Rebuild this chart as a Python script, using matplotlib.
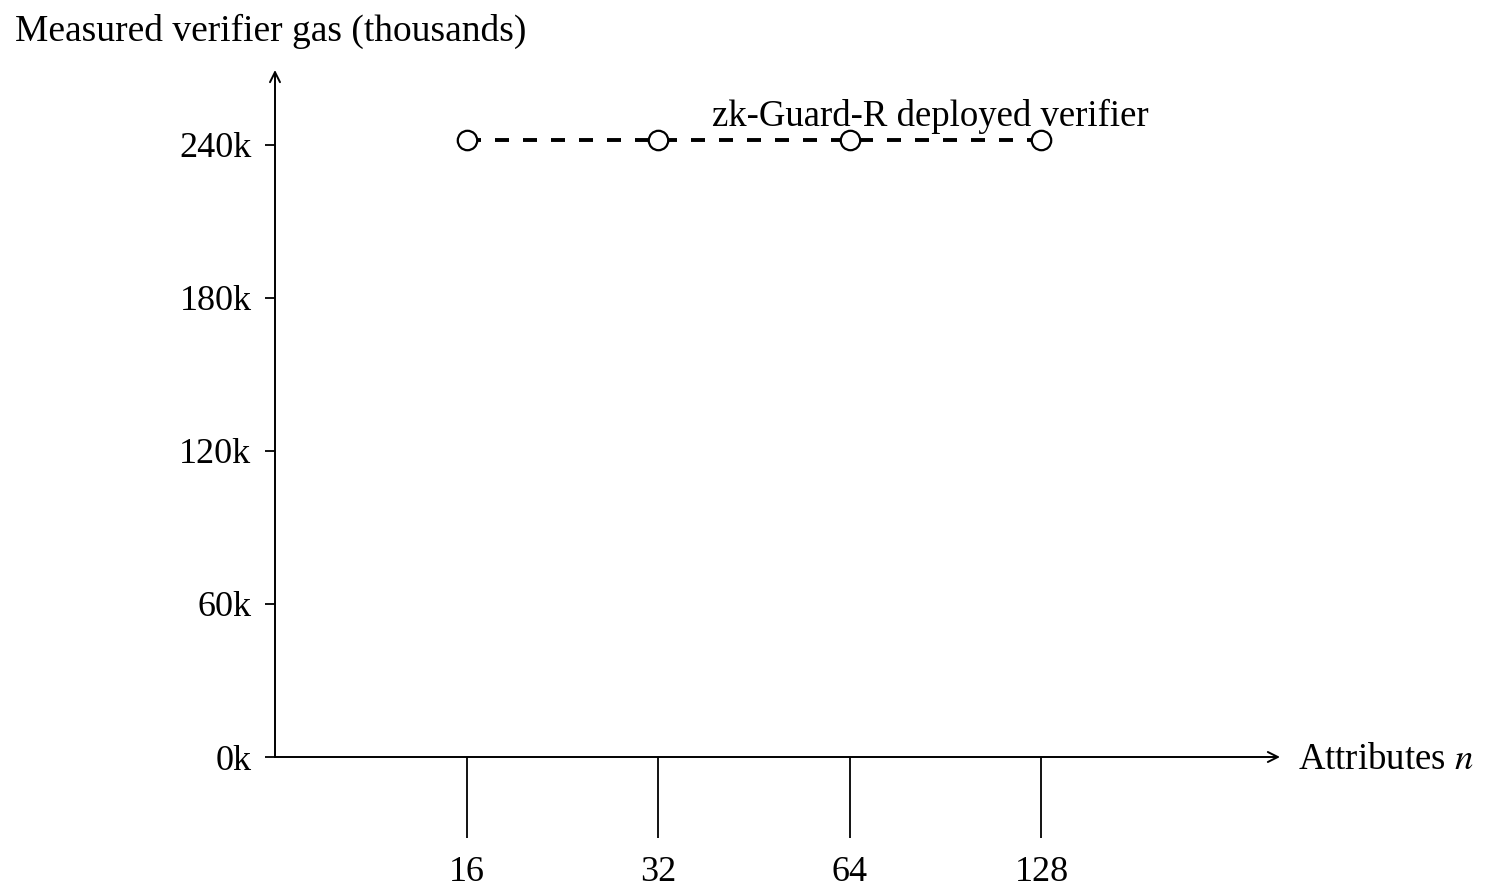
import matplotlib.pyplot as plt

plt.rcParams['font.family'] = ['Liberation Serif', 'DejaVu Serif']
plt.rcParams['mathtext.fontset'] = 'stix'

attributes = ['16', '32', '64', '128']
gas_thousands = [242, 242, 242, 242]
yticks = [0, 60, 120, 180, 240]
ytick_labels = ['0k', '60k', '120k', '180k', '240k']

fig = plt.figure(figsize=(14.94, 8.96), dpi=100)
ax = fig.add_axes([275 / 1494, 139 / 896, 1005 / 1494, 687 / 896])

xs = list(range(len(attributes)))
ax.plot(xs, gas_thousands, color='black', linestyle=(0, (3.6, 3.6)), linewidth=2.8,
        marker='o', markersize=14, markerfacecolor='white', markeredgecolor='black',
        markeredgewidth=1.6)

ax.text(2.42, 251, 'zk-Guard-R deployed verifier', ha='center', va='center', fontsize=26.5)

ax.set_xlim(-1, 4.245)
ax.set_ylim(0, 269.4)
ax.set_xticks(xs)
ax.set_xticklabels(attributes)
ax.set_yticks(yticks)
ax.set_yticklabels(ytick_labels)
ax.tick_params(axis='x', direction='out', length=58, width=1.3, pad=13, labelsize=26)
ax.tick_params(axis='y', direction='out', length=7, width=1.3, pad=10, labelsize=26)

for s in ax.spines.values():
    s.set_visible(False)
ax.annotate('', xy=(1, 0), xytext=(0, 0), xycoords='axes fraction',
            arrowprops=dict(arrowstyle='->', lw=1.4, color='black', shrinkA=0, shrinkB=0,
                            mutation_scale=18))
ax.annotate('', xy=(0, 1), xytext=(0, 0), xycoords='axes fraction',
            arrowprops=dict(arrowstyle='->', lw=1.4, color='black', shrinkA=0, shrinkB=0,
                            mutation_scale=18))

fig.text(15 / 1494, 1 - 31 / 896, 'Measured verifier gas (thousands)', ha='left', va='center',
         fontsize=27)
fig.text(1298 / 1494, 1 - 760 / 896, 'Attributes $n$', ha='left', va='center', fontsize=26.5)

fig.savefig('out.png', dpi=100)
